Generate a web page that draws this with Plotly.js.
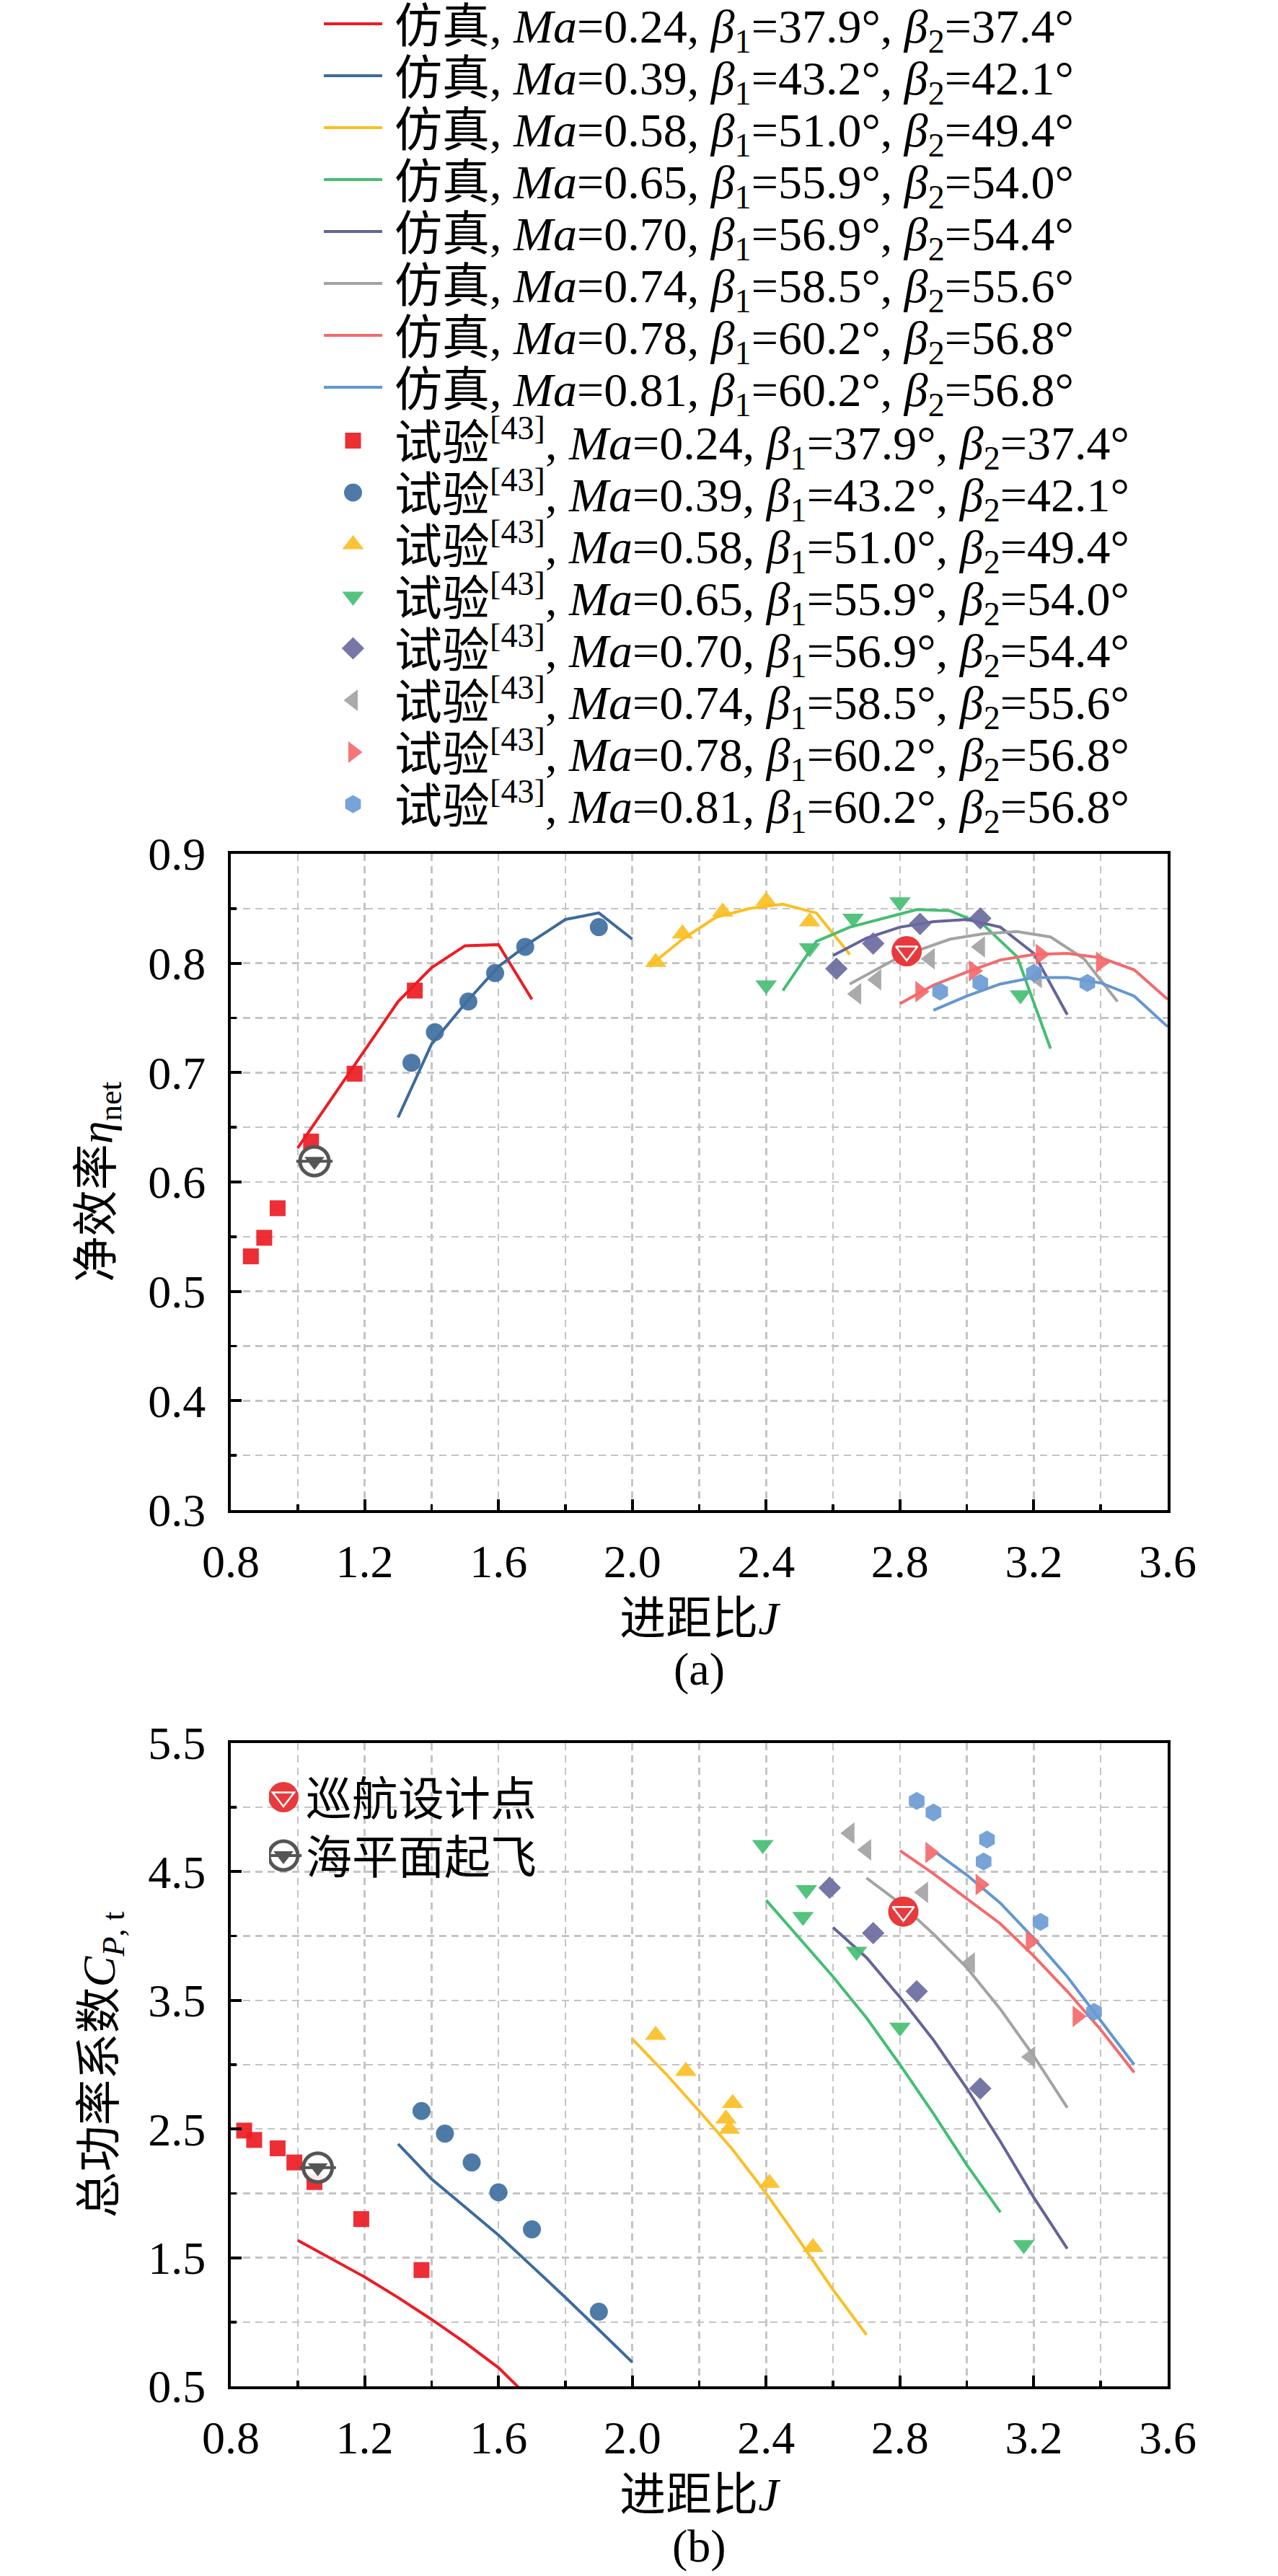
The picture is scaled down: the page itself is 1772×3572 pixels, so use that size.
<!DOCTYPE html>
<html><head><meta charset="utf-8">
<script src="https://cdn.plot.ly/plotly-3.0.1.min.js"></script>
<style>html,body{margin:0;padding:0;background:#fff;}#chart{width:1772px;height:3572px;}</style>
</head><body><div id="chart"></div>
<script>
// ---------------- DATA ----------------
const maLabels    = ['0.24','0.39','0.58','0.65','0.70','0.74','0.78','0.81'];
const beta1Labels = ['37.9','43.2','51.0','55.9','56.9','58.5','60.2','60.2'];
const beta2Labels = ['37.4','42.1','49.4','54.0','54.4','55.6','56.8','56.8'];

// (a) simulation: advance ratio J and net efficiency
const simA_J = [
  [1.0,1.1,1.2,1.3,1.4,1.5,1.6,1.7],
  [1.3,1.4,1.5,1.6,1.7,1.8,1.9,2.0],
  [2.05,2.15,2.25,2.35,2.45,2.55,2.65],
  [2.45,2.55,2.65,2.75,2.85,2.95,3.05,3.15,3.25],
  [2.6,2.7,2.8,2.9,3.0,3.1,3.2,3.3],
  [2.65,2.8,2.95,3.05,3.15,3.25,3.35,3.45],
  [2.8,2.9,3.0,3.1,3.2,3.3,3.4,3.5,3.6],
  [2.9,3.0,3.1,3.2,3.3,3.4,3.5,3.6]
];
const simA_eta = [
  [0.631,0.676,0.721,0.765,0.796,0.816,0.817,0.767],
  [0.659,0.726,0.763,0.797,0.820,0.840,0.846,0.822],
  [0.797,0.822,0.842,0.850,0.854,0.846,0.808],
  [0.775,0.820,0.833,0.841,0.849,0.848,0.835,0.806,0.722],
  [0.807,0.823,0.833,0.838,0.840,0.833,0.809,0.753],
  [0.781,0.806,0.822,0.827,0.829,0.824,0.804,0.765],
  [0.763,0.780,0.792,0.803,0.808,0.809,0.805,0.794,0.767],
  [0.757,0.770,0.781,0.787,0.787,0.782,0.770,0.742]
];
// (a) experiment
const testA_J = [
  [0.86,0.90,0.94,1.04,1.17,1.35],
  [1.34,1.41,1.51,1.59,1.68,1.90],
  [2.07,2.15,2.27,2.40,2.53],
  [2.40,2.53,2.66,2.80,3.16],
  [2.61,2.72,2.86,3.04],
  [2.67,2.73,2.89,3.04,3.21],
  [2.86,3.02,3.22,3.40],
  [2.92,3.04,3.20,3.36]
];
const testA_eta = [
  [0.532,0.549,0.576,0.637,0.699,0.775],
  [0.709,0.737,0.765,0.791,0.815,0.833],
  [0.801,0.827,0.847,0.857,0.838],
  [0.780,0.814,0.841,0.856,0.771],
  [0.795,0.818,0.836,0.841],
  [0.772,0.785,0.804,0.815,0.787],
  [0.774,0.793,0.808,0.801],
  [0.774,0.782,0.791,0.782]
];
// (b) simulation: J and total power coefficient
const simB_J = [
  [1.0,1.1,1.2,1.3,1.4,1.5,1.6,1.7],
  [1.3,1.4,1.5,1.6,1.7,1.8,1.9,2.0],
  [2.0,2.1,2.2,2.3,2.4,2.5,2.6,2.7],
  [2.4,2.5,2.6,2.7,2.8,2.9,3.0,3.1],
  [2.6,2.7,2.8,2.9,3.0,3.1,3.2,3.3],
  [2.7,2.8,2.9,3.0,3.1,3.2,3.3],
  [2.8,2.9,3.0,3.1,3.2,3.3,3.4,3.5],
  [2.91,3.0,3.1,3.2,3.3,3.4,3.5]
];
const simB_cp = [
  [1.635,1.49,1.35,1.19,1.02,0.84,0.645,0.39],
  [2.384,2.112,1.894,1.676,1.434,1.191,0.94,0.687],
  [3.2,2.93,2.64,2.34,2.0,1.63,1.25,0.9],
  [4.279,3.982,3.684,3.364,3.0,2.62,2.22,1.853],
  [4.066,3.833,3.524,3.192,2.815,2.403,1.968,1.57],
  [4.451,4.256,4.016,3.753,3.432,3.066,2.666],
  [4.664,4.485,4.29,4.096,3.844,3.57,3.272,2.94],
  [4.645,4.474,4.256,3.982,3.684,3.34,3.0]
];
// (b) experiment
const testB_J = [
  [0.84,0.87,0.94,0.99,1.05,1.19,1.37],
  [1.37,1.44,1.52,1.60,1.70,1.90],
  [2.07,2.16,2.30,2.28,2.29,2.41,2.54],
  [2.39,2.52,2.51,2.67,2.80,3.17],
  [2.59,2.72,2.85,3.04],
  [2.65,2.70,2.87,3.01,3.19],
  [2.89,3.04,3.19,3.33],
  [2.85,2.90,3.06,3.05,3.22,3.38]
];
const testB_cp = [
  [2.488,2.415,2.35,2.24,2.088,1.80,1.404],
  [2.64,2.464,2.24,2.008,1.72,1.08],
  [3.23,2.95,2.70,2.58,2.50,2.08,1.58],
  [4.71,4.36,4.15,3.88,3.29,1.60],
  [4.375,4.023,3.57,2.815],
  [4.80,4.67,4.34,3.79,3.06],
  [4.65,4.40,3.96,3.375],
  [5.05,4.96,4.75,4.58,4.11,3.41]
];
// design points
const cruiseJ = [2.82, 2.81];      // (a), (b)
const cruiseVal = [0.811, 4.19];
const takeoffJ = [1.05, 1.06];
const takeoffVal = [0.619, 2.20];
const designNames = ['巡航设计点', '海平面起飞'];

// ---------------- STYLE ----------------
const FONT = "'Liberation Serif','Times New Roman','Noto Sans CJK SC',serif";
const simColors  = ['#EC1C24','#3D6A9E','#FBBF24','#45BE73','#64649A','#A3A3A3','#F46A6C','#6497CF'];
const testColors = ['#EC1C24','#3F6FA0','#FBBF24','#45BE73','#6A6AA0','#A3A3A3','#F46A6C','#6B9BD2'];
const testSymbols = ['square','circle','triangle-up','triangle-down','diamond','triangle-left','triangle-right','hexagon'];
const testSizes = [22,25,26,26,24,26,26,25];
const LINE_W = 4;

const traces = [];
function simName(i){ return '仿真, <i>Ma</i>=' + maLabels[i] + ', <i>β</i><sub>1</sub>=' + beta1Labels[i] + '°, <i>β</i><sub>2</sub>=' + beta2Labels[i] + '°'; }
function testName(i){ return '试验<sup>[43]</sup>, <i>Ma</i>=' + maLabels[i] + ', <i>β</i><sub>1</sub>=' + beta1Labels[i] + '°, <i>β</i><sub>2</sub>=' + beta2Labels[i] + '°'; }

function addDesign(k, xa, ya, show){
  traces.push({type:'scatter',mode:'markers',x:[cruiseJ[k]],y:[cruiseVal[k]],xaxis:xa,yaxis:ya,
    name:designNames[0],legend:'legend2',showlegend:show,hoverinfo:'skip',
    marker:{symbol:'circle',size:42,color:'#E83A3C',line:{width:0}}});
  traces.push({type:'scatter',mode:'markers',x:[cruiseJ[k]],y:[cruiseVal[k]],xaxis:xa,yaxis:ya,
    name:' ',legend:'legend2',showlegend:show,hoverinfo:'skip',
    marker:{symbol:'triangle-down-open',size:26,color:'#ffffff',line:{width:2.5,color:'#ffffff'}}});
  traces.push({type:'scatter',mode:'markers',x:[takeoffJ[k]],y:[takeoffVal[k]],xaxis:xa,yaxis:ya,
    name:designNames[1],legend:'legend2',showlegend:show,hoverinfo:'skip',
    marker:{symbol:'circle',size:40,color:'rgba(255,255,255,0.9)',line:{width:5,color:'#555555'}}});
  traces.push({type:'scatter',mode:'markers',x:[takeoffJ[k]],y:[takeoffVal[k]],xaxis:xa,yaxis:ya,
    name:' ',legend:'legend2',showlegend:show,hoverinfo:'skip',
    marker:{symbol:'line-ew-open',size:36,color:'#555555',line:{width:4,color:'#555555'}}});
  traces.push({type:'scatter',mode:'markers',x:[takeoffJ[k]],y:[takeoffVal[k]],xaxis:xa,yaxis:ya,
    name:' ',legend:'legend2',showlegend:show,hoverinfo:'skip',
    marker:{symbol:'triangle-down',size:24,color:'#555555',line:{width:0}}});
}

// panel (a)
for(let i=0;i<8;i++) traces.push({type:'scatter',mode:'lines',x:simA_J[i],y:simA_eta[i],xaxis:'x',yaxis:'y',
  showlegend:false,hoverinfo:'skip',line:{color:simColors[i],width:LINE_W}});
for(let i=0;i<8;i++) traces.push({type:'scatter',mode:'markers',x:testA_J[i],y:testA_eta[i],xaxis:'x',yaxis:'y',
  showlegend:false,hoverinfo:'skip',marker:{symbol:testSymbols[i],size:testSizes[i],color:testColors[i],opacity:0.92,line:{width:0}}});
addDesign(0,'x','y',false);
// panel (b)
for(let i=0;i<8;i++) traces.push({type:'scatter',mode:'lines',x:simB_J[i],y:simB_cp[i],xaxis:'x2',yaxis:'y2',
  name:simName(i),legend:'legend',showlegend:true,hoverinfo:'skip',line:{color:simColors[i],width:LINE_W}});
for(let i=0;i<8;i++) traces.push({type:'scatter',mode:'markers',x:testB_J[i],y:testB_cp[i],xaxis:'x2',yaxis:'y2',
  name:testName(i),legend:'legend',showlegend:true,hoverinfo:'skip',
  marker:{symbol:testSymbols[i],size:testSizes[i],color:testColors[i],opacity:0.92,line:{width:0}}});
addDesign(1,'x2','y2',true);

// ---------------- LAYOUT ----------------
const W=1772,H=3572, L=320, R=153, T=1184, B=263;
const PW=W-L-R, PH=H-T-B;
const gridStyle = {gridcolor:'#C4C4C4',gridwidth:2.5,griddash:'10px,7px'};
function axisBase(){
  return Object.assign({showline:true,linewidth:4,linecolor:'#000',mirror:true,
    ticks:'inside',ticklen:15,tickwidth:4,tickcolor:'#000',showgrid:true,zeroline:false,
    tickfont:{family:FONT,size:64,color:'#000'},tickformat:'.1f'}, gridStyle);
}
function xAxis(anchor){
  return Object.assign(axisBase(),{anchor:anchor,domain:[0,1],range:[0.8,3.6],tick0:0.8,dtick:0.4,
    ticklabelstandoff:12,
    minor:Object.assign({tick0:0.8,dtick:0.2,ticks:'inside',ticklen:8,tickwidth:3.5,tickcolor:'#000',showgrid:true},gridStyle),
    title:{text:'进距比<i>J</i>',font:{family:FONT,size:64,color:'#000'},standoff:22}});
}
const domA=[(H-B-2094)/PH,1], domB=[0,(H-B-2417)/PH];
const layout = {
  width:W,height:H,margin:{l:L,r:R,t:T,b:B,autoexpand:false},
  paper_bgcolor:'#fff',plot_bgcolor:'#fff',hovermode:false,
  font:{family:FONT,size:64,color:'#000'},
  xaxis:xAxis('y'),
  yaxis:Object.assign(axisBase(),{anchor:'x',domain:domA,range:[0.3,0.9],tick0:0.3,dtick:0.1,ticklabelstandoff:18,
    minor:Object.assign({tick0:0.3,dtick:0.05,ticks:'inside',ticklen:8,tickwidth:3.5,tickcolor:'#000',showgrid:true},gridStyle),
    title:{text:'净效率<i>η</i><sub>net</sub>',font:{family:FONT,size:64,color:'#000'},standoff:30}}),
  xaxis2:xAxis('y2'),
  yaxis2:Object.assign(axisBase(),{anchor:'x2',domain:domB,range:[0.5,5.5],tick0:0.5,dtick:1,ticklabelstandoff:18,
    minor:Object.assign({tick0:0.5,dtick:0.5,ticks:'inside',ticklen:8,tickwidth:3.5,tickcolor:'#000',showgrid:true},gridStyle),
    title:{text:'总功率系数<i>C</i><sub><i>P</i>, t</sub>',font:{family:FONT,size:64,color:'#000'},standoff:26}}),
  legend:{x:(444-L)/PW,xanchor:'left',y:1+T/PH,yanchor:'top',bgcolor:'rgba(0,0,0,0)',borderwidth:0,
    font:{family:FONT,size:66,color:'#000'},itemwidth:93,traceorder:'normal',itemclick:false,itemdoubleclick:false},
  legend2:{x:(373-L)/PW,xanchor:'left',y:1-(2440-T)/PH,yanchor:'top',bgcolor:'rgba(0,0,0,0)',borderwidth:0,
    font:{family:FONT,size:64,color:'#000'},itemwidth:41,traceorder:'normal',itemclick:false,itemdoubleclick:false},
  annotations:[
    {text:'(a)',xref:'paper',yref:'paper',x:0.5,y:(H-B-2314)/PH,xanchor:'center',yanchor:'middle',showarrow:false,font:{family:FONT,size:64,color:'#000'}},
    {text:'(b)',xref:'paper',yref:'paper',x:0.5,y:(H-B-3530)/PH,xanchor:'center',yanchor:'middle',showarrow:false,font:{family:FONT,size:64,color:'#000'}}
  ]
};

// ---------------- legend fine placement ----------------
function tuneLegends(gd){
  try{
    const mainRows=[]; for(let i=0;i<8;i++) mainRows.push(33+72*i); for(let j=0;j<8;j++) mainRows.push(611+72*j);
    const spec = {
      legend:{originX:444,rows:mainRows,line:81,cx:45.5},
      legend2:{originX:373,rows:[2492,2492,2573,2573,2573],line:0,cx:20}
    };
    const plotPts={};
    gd.querySelectorAll('.scatterlayer g.trace').forEach(function(g){
      const cd=g.__data__; if(!cd||!cd[0]||!cd[0].trace) return;
      const p=g.querySelector('path.point'); if(p) plotPts[cd[0].trace.index]=p;
    });
    const counters={legend:0,legend2:0};
    gd.querySelectorAll('g.traces').forEach(function(it){
      const d=it.__data__; let tr=d&&d[0]&&d[0].trace; if(!tr) return;
      const key=tr.legend||'legend'; const s=spec[key]; if(!s) return;
      const idx=counters[key]++; if(idx>=s.rows.length) return;
      const m=it.parentNode.getCTM();
      it.setAttribute('transform','translate('+(s.originX-m.e)+','+(s.rows[idx]-m.f)+')');
      const ln=it.querySelector('path.js-line'); if(ln&&s.line) ln.setAttribute('d','M5,0h'+s.line);
      it.querySelectorAll('path.scatterpts').forEach(function(p){
        const src=plotPts[tr.index]; if(src) p.setAttribute('d',src.getAttribute('d'));
        p.setAttribute('transform','translate('+s.cx+',0)');
      });
    });
  }catch(e){ console.log(e); }
}
Plotly.newPlot('chart',traces,layout,{staticPlot:true,displayModeBar:false}).then(tuneLegends);
</script></body></html>
